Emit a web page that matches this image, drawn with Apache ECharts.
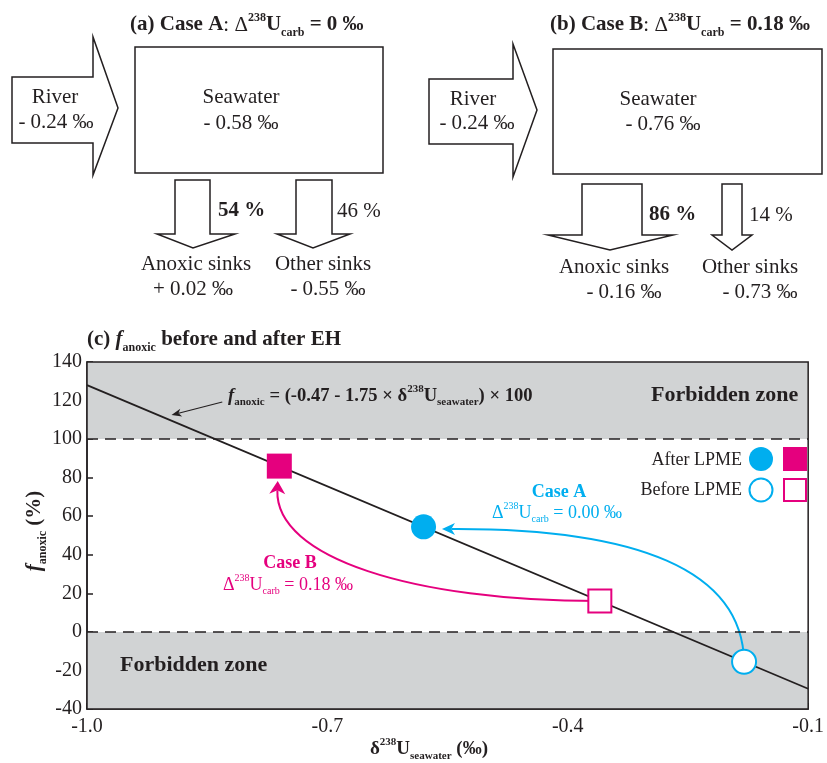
<!DOCTYPE html>
<html><head><meta charset="utf-8">
<script src="https://cdn.jsdelivr.net/npm/echarts@6/dist/echarts.min.js"></script>
<style>html,body{margin:0;padding:0;background:#fff}#c{width:827px;height:763px}</style>
</head><body><div id="c"></div>
<script>
// ---------- data ----------
const xTicks = [-1.0, -0.7, -0.4, -0.1];
const xRange = [-1.0, -0.1];
const yRange = [-40, 140];
const yStep = 20;
const forbiddenUpper = [100, 140];
const forbiddenLower = [-40, 0];
const fitLineX = [-1.0, -0.1];
const fitLineY = [128, -29.5];
const afterA = [-0.58, 54.5];
const beforeA = [-0.18, -15.5];
const afterB = [-0.76, 86];
const beforeB = [-0.36, 16];
// curved arrows: start, control1, control2, tip (data coords)
const arrowA = [-0.18, -15.5, -0.182, 32.1, -0.3135, 53.9, -0.557, 53.4];
const arrowB = [-0.362, 16.0, -0.592, 16.0, -0.7654, 38.3, -0.762, 78.3];
const arrowEq = [-0.8312, 119.25, -0.8312, 119.25, -0.8312, 119.25, -0.8945, 112.5];
// box model texts
const panelA = ['- 0.24 ‰', '- 0.58 ‰', '54 %', '46 %', '+ 0.02 ‰', '- 0.55 ‰'];
const panelB = ['- 0.24 ‰', '- 0.76 ‰', '86 %', '14 %', '- 0.16 ‰', '- 0.73 ‰'];

// ---------- style ----------
const FONT = '"Liberation Serif", "Times New Roman", serif';
const INK = '#231f20';
const CYAN = '#00aeef';
const MAG = '#e5007e';
const GRAY = '#d1d3d4';

function rich(size, color) {
  const lh = Math.round(size * 1.3);
  const s = Math.round(size * 0.58);
  const supLH = lh - Math.round(size * 0.5);
  const subLH = lh - Math.round(size * 0.75);
  const base = {fontFamily: FONT, fill: color};
  return {
    n: Object.assign({}, base, {fontSize: size, lineHeight: lh}),
    b: Object.assign({}, base, {fontSize: size, lineHeight: lh, fontWeight: 'bold'}),
    bi: Object.assign({}, base, {fontSize: size, lineHeight: lh, fontWeight: 'bold', fontStyle: 'italic'}),
    sup: Object.assign({}, base, {fontSize: s, lineHeight: supLH, verticalAlign: 'top'}),
    supb: Object.assign({}, base, {fontSize: s, lineHeight: supLH, verticalAlign: 'top', fontWeight: 'bold'}),
    sub: Object.assign({}, base, {fontSize: s, lineHeight: subLH, verticalAlign: 'bottom'}),
    subb: Object.assign({}, base, {fontSize: s, lineHeight: subLH, verticalAlign: 'bottom', fontWeight: 'bold'})
  };
}
function txt(x, y, text, size, opts) {
  opts = opts || {};
  return {
    type: 'text', x: x, y: y, rotation: opts.rotation || 0, z: 20, silent: true,
    style: {
      text: text, rich: rich(size, opts.color || INK),
      textAlign: opts.align || 'left', textVerticalAlign: 'middle'
    }
  };
}
function poly(points) {
  return {type: 'polygon', shape: {points: points}, silent: true,
    style: {fill: '#fff', stroke: INK, lineWidth: 1.5}};
}
function rect(x, y, w, h) {
  return {type: 'rect', shape: {x: x, y: y, width: w, height: h}, silent: true,
    style: {fill: '#fff', stroke: INK, lineWidth: 1.5}};
}

const graphics = [
  // ---- panel (a) ----
  txt(130, 25, '{b|(a) Case A}{n|: Δ}{supb|238}{b|U}{subb|carb}{b| = 0 ‰}', 21),
  rect(135, 47, 248, 126),
  poly([[12, 77], [93, 77], [93, 37], [118, 108], [93, 175], [93, 143], [12, 143]]),
  poly([[175, 180], [210, 180], [210, 234], [235, 234], [193, 248], [157, 234], [175, 234]]),
  poly([[296, 180], [332, 180], [332, 234], [350, 234], [313, 248], [277, 234], [296, 234]]),
  txt(55, 97, '{n|River}', 21, {align: 'center'}),
  txt(56, 122, '{n|' + panelA[0] + '}', 21, {align: 'center'}),
  txt(241, 97, '{n|Seawater}', 21, {align: 'center'}),
  txt(241, 123, '{n|' + panelA[1] + '}', 21, {align: 'center'}),
  txt(218, 211, '{b|' + panelA[2] + '}', 21),
  txt(337, 211, '{n|' + panelA[3] + '}', 21),
  txt(196, 264, '{n|Anoxic sinks}', 21, {align: 'center'}),
  txt(193, 289, '{n|' + panelA[4] + '}', 21, {align: 'center'}),
  txt(323, 264, '{n|Other sinks}', 21, {align: 'center'}),
  txt(328, 289, '{n|' + panelA[5] + '}', 21, {align: 'center'}),
  // ---- panel (b) ----
  txt(550, 25, '{b|(b) Case B}{n|: Δ}{supb|238}{b|U}{subb|carb}{b| = 0.18 ‰}', 21),
  rect(553, 49, 269, 125),
  poly([[429, 79], [513, 79], [513, 44], [537, 110], [513, 177], [513, 144], [429, 144]]),
  poly([[582, 184], [642, 184], [642, 235], [673, 235], [610, 250], [548, 235], [582, 235]]),
  poly([[722, 184], [742, 184], [742, 235], [752, 235], [732, 250], [712, 235], [722, 235]]),
  txt(473, 99, '{n|River}', 21, {align: 'center'}),
  txt(477, 123, '{n|' + panelB[0] + '}', 21, {align: 'center'}),
  txt(658, 99, '{n|Seawater}', 21, {align: 'center'}),
  txt(663, 124, '{n|' + panelB[1] + '}', 21, {align: 'center'}),
  txt(649, 215, '{b|' + panelB[2] + '}', 21),
  txt(749, 215, '{n|' + panelB[3] + '}', 21),
  txt(614, 267, '{n|Anoxic sinks}', 21, {align: 'center'}),
  txt(624, 292, '{n|' + panelB[4] + '}', 21, {align: 'center'}),
  txt(750, 267, '{n|Other sinks}', 21, {align: 'center'}),
  txt(760, 292, '{n|' + panelB[5] + '}', 21, {align: 'center'}),
  // ---- panel (c) texts ----
  txt(87, 340, '{b|(c) }{bi|f}{subb|anoxic}{b| before and after EH}', 21),
  txt(228, 396, '{bi|f}{subb|anoxic}{b| = (-0.47 - 1.75 × δ}{supb|238}{b|U}{subb|seawater}{b|) × 100}', 18.6),
  txt(651, 395, '{b|Forbidden zone}', 22),
  txt(120, 665, '{b|Forbidden zone}', 22),
  txt(742, 460, '{n|After LPME}', 18, {align: 'right'}),
  txt(742, 490, '{n|Before LPME}', 18, {align: 'right'}),
  {type: 'circle', shape: {cx: 761, cy: 459, r: 12}, z: 20, style: {fill: CYAN}},
  {type: 'rect', shape: {x: 783, y: 447, width: 24, height: 24}, z: 20, style: {fill: MAG}},
  {type: 'circle', shape: {cx: 761, cy: 490, r: 11.5}, z: 20, style: {fill: '#fff', stroke: CYAN, lineWidth: 2}},
  {type: 'rect', shape: {x: 784, y: 479, width: 22, height: 22}, z: 20, style: {fill: '#fff', stroke: MAG, lineWidth: 2}},
  txt(559, 492, '{b|Case A}', 18, {align: 'center', color: CYAN}),
  txt(557, 513, '{n|Δ}{sup|238}{n|U}{sub|carb}{n| = 0.00 ‰}', 18, {align: 'center', color: CYAN}),
  txt(290, 563, '{b|Case B}', 18, {align: 'center', color: MAG}),
  txt(288, 585, '{n|Δ}{sup|238}{n|U}{sub|carb}{n| = 0.18 ‰}', 18, {align: 'center', color: MAG}),
  // axis names
  txt(35, 531, '{bi|f}{subb|anoxic}{b| (%)}', 21, {align: 'center', rotation: Math.PI / 2}),
  txt(429, 749, '{b|δ}{supb|238}{b|U}{subb|seawater}{b| (‰)}', 19, {align: 'center'})
];

function arrowRenderer(color, width, headLen, headHalf) {
  return function (params, api) {
    const p = [];
    for (let i = 0; i < 4; i++) p.push(api.coord([api.value(2 * i), api.value(2 * i + 1)]));
    let dx = p[3][0] - p[2][0], dy = p[3][1] - p[2][1];
    const len = Math.hypot(dx, dy) || 1; dx /= len; dy /= len;
    const nx = -dy, ny = dx;
    const bx = p[3][0] - dx * headLen, by = p[3][1] - dy * headLen;
    const notchX = p[3][0] - dx * headLen * 0.72, notchY = p[3][1] - dy * headLen * 0.72;
    return {
      type: 'group', children: [
        {type: 'bezierCurve', shape: {x1: p[0][0], y1: p[0][1], cpx1: p[1][0], cpy1: p[1][1],
          cpx2: p[2][0], cpy2: p[2][1], x2: notchX, y2: notchY},
          style: {stroke: color, lineWidth: width, fill: null}},
        {type: 'polygon', shape: {points: [[p[3][0], p[3][1]], [bx + nx * headHalf, by + ny * headHalf],
          [notchX, notchY], [bx - nx * headHalf, by - ny * headHalf]]},
          style: {fill: color, stroke: null}}
      ]
    };
  };
}

const chart = echarts.init(document.getElementById('c'), null, {renderer: 'canvas'});
chart.setOption({
  animation: false,
  backgroundColor: '#fff',
  grid: {left: 87, right: 15, top: 362, bottom: 54, show: true, borderColor: INK, borderWidth: 1.5, backgroundColor: 'transparent', z: 10},
  xAxis: {
    type: 'value', min: xRange[0], max: xRange[1],
    axisLine: {show: true, onZero: false, lineStyle: {color: INK, width: 1.5}},
    axisTick: {show: true, inside: true, length: 6, customValues: xTicks, lineStyle: {color: INK, width: 1.5}},
    axisLabel: {customValues: xTicks, formatter: v => v.toFixed(1), fontFamily: FONT, fontSize: 20, color: INK, margin: 8},
    splitLine: {show: false}
  },
  yAxis: {
    type: 'value', min: yRange[0], max: yRange[1], interval: yStep,
    axisLine: {show: true, onZero: false, lineStyle: {color: INK, width: 1.5}},
    axisTick: {show: true, inside: true, length: 6, lineStyle: {color: INK, width: 1.5}},
    axisLabel: {fontFamily: FONT, fontSize: 20, color: INK, margin: 5},
    splitLine: {show: false}
  },
  series: [
    {
      type: 'line', data: fitLineX.map((x, i) => [x, fitLineY[i]]), symbol: 'none', silent: true, z: 3,
      lineStyle: {color: INK, width: 1.8},
      markArea: {silent: true, itemStyle: {color: GRAY, opacity: 1},
        data: [[{yAxis: forbiddenUpper[0]}, {yAxis: forbiddenUpper[1]}], [{yAxis: forbiddenLower[0]}, {yAxis: forbiddenLower[1]}]]},
      markLine: {silent: true, symbol: 'none', label: {show: false},
        lineStyle: {color: INK, width: 1.5, type: [11, 7]},
        data: [{yAxis: forbiddenUpper[0]}, {yAxis: forbiddenLower[1]}]}
    },
    {type: 'custom', coordinateSystem: 'cartesian2d', data: [arrowA], encode: {x: [0, 2, 4, 6], y: [1, 3, 5, 7]},
      renderItem: arrowRenderer(CYAN, 2, 13, 6), z: 4, silent: true},
    {type: 'custom', coordinateSystem: 'cartesian2d', data: [arrowB], encode: {x: [0, 2, 4, 6], y: [1, 3, 5, 7]},
      renderItem: arrowRenderer(MAG, 2, 13, 8), z: 4, silent: true},
    {type: 'custom', coordinateSystem: 'cartesian2d', data: [arrowEq], encode: {x: [0, 2, 4, 6], y: [1, 3, 5, 7]},
      renderItem: arrowRenderer(INK, 1.2, 10, 4), z: 4, silent: true},
    {type: 'scatter', data: [afterA], symbol: 'circle', symbolSize: 25, z: 6, silent: true, itemStyle: {color: CYAN, opacity: 1}},
    {type: 'scatter', data: [beforeA], symbol: 'circle', symbolSize: 24, z: 6, silent: true, itemStyle: {color: '#fff', borderColor: CYAN, borderWidth: 2, opacity: 1}},
    {type: 'scatter', data: [afterB], symbol: 'rect', symbolSize: 25, z: 6, silent: true, itemStyle: {color: MAG, opacity: 1}},
    {type: 'scatter', data: [beforeB], symbol: 'rect', symbolSize: 23, z: 6, silent: true, itemStyle: {color: '#fff', borderColor: MAG, borderWidth: 2, opacity: 1}}
  ],
  graphic: graphics
});
</script></body></html>
